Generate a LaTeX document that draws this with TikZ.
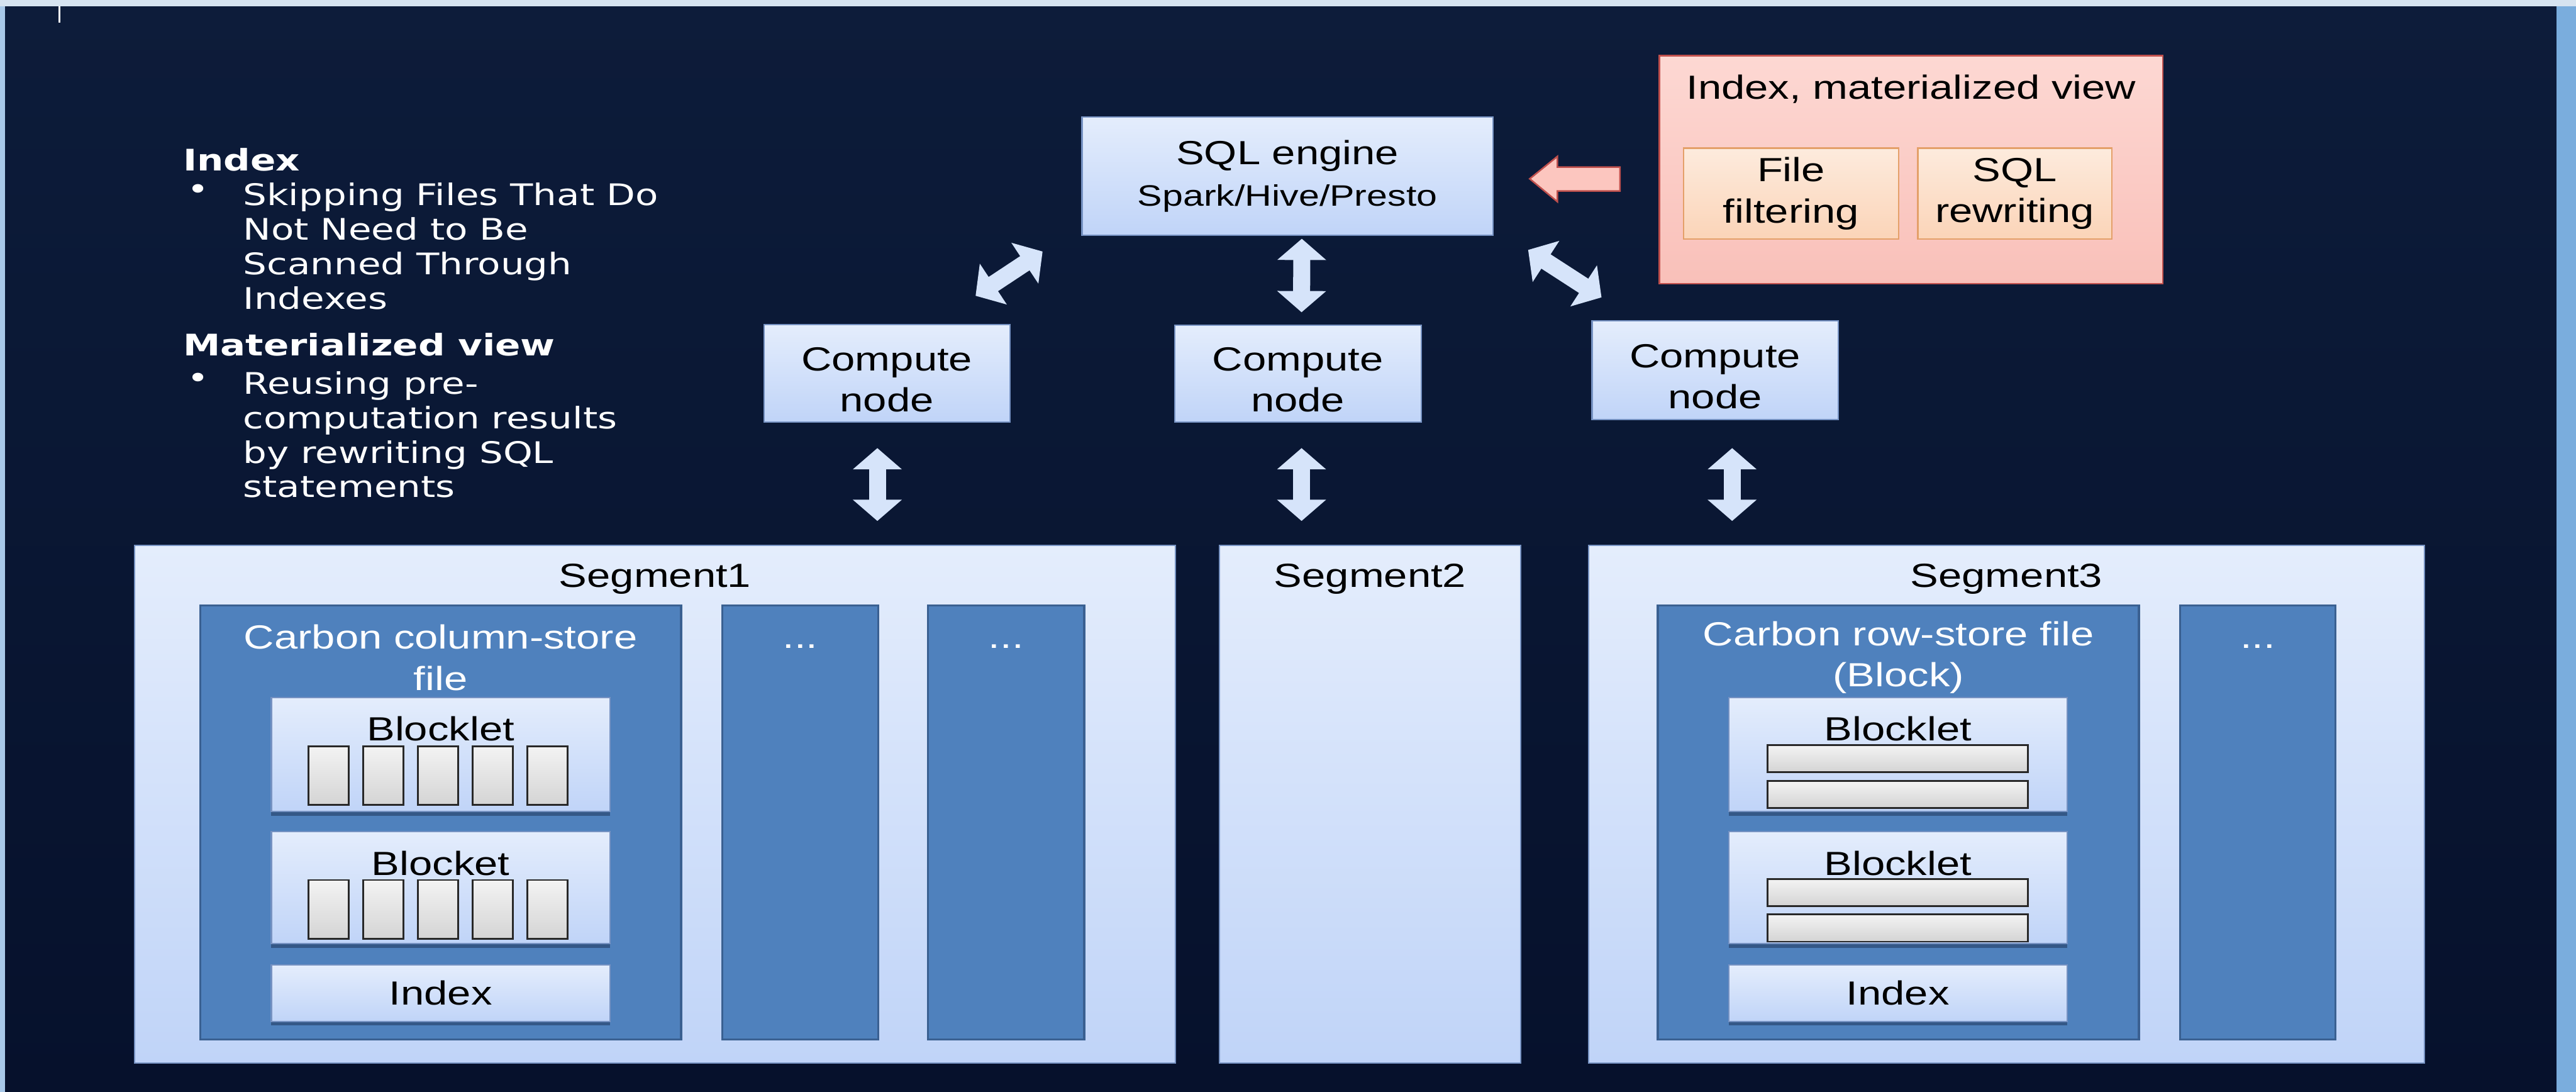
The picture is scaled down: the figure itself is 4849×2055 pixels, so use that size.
\documentclass[tikz,border=0pt]{standalone}
\usepackage{fontspec}
\setmainfont{Liberation Sans}[FakeStretch=1.26]
\newfontfamily\notefont{DejaVu Sans}[FakeStretch=1.26]
\usepackage{tikz}
\usetikzlibrary{calc,arrows.meta,shadows}
\definecolor{navytop}{RGB}{13,28,58}
\definecolor{navybot}{RGB}{6,17,44}
\definecolor{frametop}{RGB}{214,227,240}
\definecolor{frameleft}{RGB}{168,200,232}
\definecolor{frameright}{RGB}{122,173,221}
\definecolor{boxtop}{RGB}{228,237,252}
\definecolor{boxbot}{RGB}{192,212,248}
\definecolor{boxedge}{RGB}{118,146,194}
\definecolor{filefill}{RGB}{79,129,189}
\definecolor{fileedge}{RGB}{58,96,145}
\definecolor{bandblue}{RGB}{52,88,135}
\definecolor{celltop}{RGB}{243,243,243}
\definecolor{cellbot}{RGB}{212,212,212}
\definecolor{celledge}{RGB}{40,40,40}
\definecolor{pinktop}{RGB}{253,216,211}
\definecolor{pinkbot}{RGB}{249,192,185}
\definecolor{pinkedge}{RGB}{192,80,77}
\definecolor{peachtop}{RGB}{253,235,221}
\definecolor{peachbot}{RGB}{251,212,184}
\definecolor{peachedge}{RGB}{228,160,105}
\definecolor{arrowfill}{RGB}{214,228,250}
\definecolor{pinkarrow}{RGB}{252,198,191}

\begin{document}
\begin{tikzpicture}[x=0.01cm, y=-0.01cm,
  lbl/.style={font=\fontsize{17.9}{22}\selectfont, inner sep=0pt, align=center},
  note/.style={font=\notefont\fontsize{15.9}{18.5}\selectfont, text=white, inner sep=0pt, align=left},
  notehd/.style={note, font=\notefont\bfseries\fontsize{15.9}{18.5}\selectfont},
  litebox/.style={draw=boxedge, line width=0.25mm, top color=boxtop, bottom color=boxbot,
                  inner sep=0pt, align=center, font=\fontsize{17.9}{22}\selectfont},
  compbox/.style={litebox, minimum width=4.63cm, minimum height=1.83cm,
                  label={[lbl, yshift=-0.12cm]center:{Compute\\node}}},
  seg/.style={litebox, minimum height=9.73cm},
  filebox/.style={draw=fileedge, line width=0.4mm, fill=filefill, minimum height=8.16cm},
  blk/.style={litebox, minimum width=6.37cm,
              drop shadow={shadow xshift=0cm, shadow yshift=-0.08cm, fill=bandblue, opacity=1}},
  cellv/.style={draw=celledge, line width=0.35mm, top color=celltop, bottom color=cellbot,
                minimum width=0.76cm, minimum height=1.11cm, inner sep=0pt},
  cellh/.style={cellv, minimum width=4.9cm, minimum height=0.51cm},
  pinkbox/.style={draw=pinkedge, line width=0.3mm, top color=pinktop, bottom color=pinkbot,
                  minimum width=9.47cm, minimum height=4.29cm},
  peach/.style={draw=peachedge, line width=0.3mm, top color=peachtop, bottom color=peachbot,
                minimum height=1.71cm, inner sep=0pt, align=center, font=\fontsize{17.9}{22}\selectfont},
  dblarr/.style={line width=0.32cm, draw=arrowfill,
                 {Triangle[length=0.4cm,width=0.9cm]}-{Triangle[length=0.4cm,width=0.9cm]}},
  pinkarr/.style={draw=pinkedge, line width=0.3mm, fill=pinkarrow}
]
\useasboundingbox (0,0) rectangle (4849,2055);
% background and window frame
\shade[top color=navytop, bottom color=navybot] (0,0) rectangle (4849,2055);
\fill[frameleft] (0,0) rectangle (10,2055);
\fill[frameright] (4812,0) rectangle (4849,2055);
\fill[frametop] (0,0) rectangle (4849,12);
\draw[white, line width=0.03cm] (112,12) -- (112,43);

% notes on the left
\node[notehd, anchor=west] (idxhd) at (344,300) {Index};
\node[note, anchor=west] (dot1) at (352,362) {\textbullet};
\node[note, anchor=north west] (idxtxt) at (457,343) {Skipping Files That Do\\Not Need to Be\\Scanned Through\\Indexes};
\node[notehd, anchor=west] (mvhd) at (344,649) {Materialized view};
\node[note, anchor=west] (dot2) at (352,717) {\textbullet};
\node[note, anchor=north west] (mvtxt) at (457,698) {Reusing pre-\\computation results\\by rewriting SQL\\statements};

% engine and compute nodes
\node[litebox, minimum width=7.73cm, minimum height=2.23cm] (sql) at (2423.5,331.5)
  {SQL engine\\{\fontsize{15.8}{19}\selectfont Spark/Hive/Presto}};
\node[compbox] (cn1) at (1669.5,702.5) {};
\node[compbox, minimum width=4.64cm, minimum height=1.82cm] (cn2) at (2443,703) {};
\node[compbox, minimum height=1.86cm] (cn3) at (3228.5,697) {};

% index / materialized view
\node[pinkbox] (idxmv) at (3597.5,319.5) {};
\node[lbl] (idxmvt) at ($(idxmv.north)+(0,64)$) {Index, materialized view};
\node[peach, minimum width=4.05cm] (ff) at (3371.5,364.5) {File\\filtering};
\node[peach, minimum width=3.65cm] (sr) at (3792.5,364.5) {SQL\\rewriting};
\draw[pinkarr] ($(sql.east)+(68,5)$) -- ++(52,-42) -- ++(0,20) -- ++(118,0) -- ++(0,45)
  -- ++(-118,0) -- ++(0,20) -- cycle;

% segments
\node[seg, minimum width=19.58cm] (seg1) at (1233,1513.5) {};
\node[seg, minimum width=5.66cm] (seg2) at (2579,1513.5) {};
\node[seg, minimum width=15.72cm] (seg3) at (3777,1513.5) {};
\node[lbl] (seg1t) at ($(seg1.north)+(0,64)$) {Segment1};
\node[lbl] (seg2t) at ($(seg2.north)+(0,64)$) {Segment2};
\node[lbl] (seg3t) at ($(seg3.north)+(0,64)$) {Segment3};

% segment 1: column-store file
\node[filebox, minimum width=9.05cm] (cf1) at (829.5,1548) {};
\node[filebox, minimum width=2.93cm] (m1a) at (1506.5,1548) {};
\node[filebox, minimum width=2.94cm] (m1b) at (1894,1548) {};
\node[lbl, text=white] (cf1t) at ($(cf1.north)+(0,100)$) {Carbon column-store\\file};
\node[lbl, text=white] (m1at) at ($(m1a.north)+(0,79)$) {...};
\node[lbl, text=white] (m1bt) at ($(m1b.north)+(0,79)$) {...};
\node[blk, minimum height=2.14cm] (bl1a) at (829.5,1420) {};
\node[blk, minimum height=2.11cm] (bl1b) at (829.5,1670.5) {};
\node[blk, minimum height=1.06cm] (ix1) at (829.5,1869) {Index};
\node[lbl] (bl1at) at ($(bl1a.north)+(0,60)$) {Blocklet};
\node[lbl] (bl1bt) at ($(bl1b.north)+(0,61)$) {Blocket};
\foreach \b in {bl1a,bl1b}
  \foreach \i in {0,...,4}
    \node[cellv] (\b-c\i) at ($(\b.north west)+(109+103*\i,148)$) {};

% segment 3: row-store file
\node[filebox, minimum width=9.05cm] (rf3) at (3573.5,1548) {};
\node[filebox, minimum width=2.92cm] (m3) at (4250,1548) {};
\node[lbl, text=white] (rf3t) at ($(rf3.north)+(0,100)$) {Carbon row-store file\\(Block)};
\node[lbl, text=white] (m3t) at ($(m3.north)+(0,79)$) {...};
\node[blk, minimum height=2.14cm] (bl3a) at (3572.5,1420) {};
\node[blk, minimum height=2.11cm] (bl3b) at (3572.5,1670.5) {};
\node[blk, minimum height=1.06cm] (ix3) at (3572.5,1869) {Index};
\node[lbl] (bl3at) at ($(bl3a.north)+(0,60)$) {Blocklet};
\node[lbl] (bl3bt) at ($(bl3b.north)+(0,61)$) {Blocklet};
\foreach \b in {bl3a,bl3b} {
  \node[cellh] (\b-r1) at ($(\b.north)+(0,116)$) {};
  \node[cellh] (\b-r2) at ($(\b.north)+(0,183)$) {};
}

% double arrows
\draw[dblarr] ($(sql.south west)+(-73,29)$) -- ($(cn1.north east)+(-66,-53)$);
\draw[dblarr] ($(sql.south)+(27,5)$) -- ($(cn2.north)+(7,-23)$);
\draw[dblarr] ($(sql.south east)+(65,26)$) -- ($(cn3.north west)+(19,-43)$);
\draw[dblarr] ($(cn1.south)+(-18,48)$) -- ($(cn1.south |- seg1.north)+(-18,-45)$);
\draw[dblarr] ($(cn2.south)+(7,48)$) -- ($(cn2.south |- seg2.north)+(7,-45)$);
\draw[dblarr] ($(cn3.south)+(32,52)$) -- ($(cn3.south |- seg3.north)+(32,-45)$);
\end{tikzpicture}
\end{document}
